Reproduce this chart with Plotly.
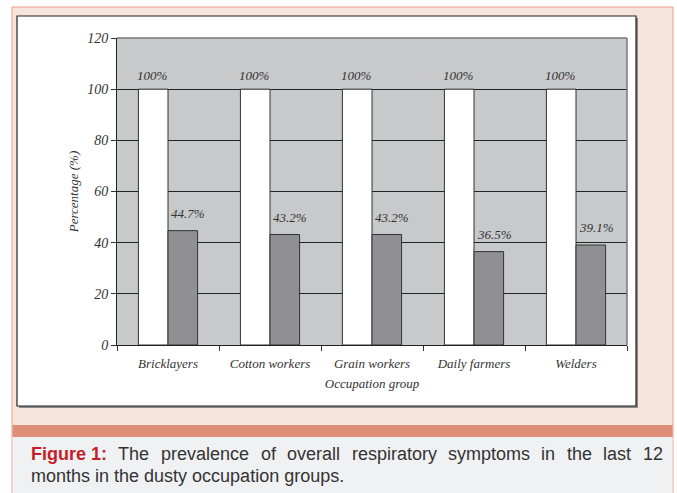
import plotly.graph_objects as go

categories = ["Bricklayers", "Cotton workers", "Grain workers", "Daily farmers", "Welders"]
total_values = [100, 100, 100, 100, 100]
symptom_values = [44.7, 43.2, 43.2, 36.5, 39.1]
y_ticks = [0, 20, 40, 60, 80, 100, 120]

caption_lead = "Figure 1:"
caption_line1 = "The prevalence of overall respiratory symptoms in the last 12"
caption_line2 = "months in the dusty occupation groups."

W, H = 677, 493
L, R, T, B = 117, 627, 38, 345  # plot area in pixels


def xp(px):
    return (px - L) / (R - L)


def yp(py):
    return (B - py) / (B - T)


serif = "Liberation Serif"
sans = "Liberation Sans"
txt = "#333333"
ital = dict(family=serif, size=13, color=txt, style="italic")

# Arial advance widths (em) for justifying the first caption line
REG = {" ": .278, "T": .611, "h": .556, "e": .556, "p": .556, "r": .333, "v": .5, "a": .556,
       "l": .222, "n": .556, "c": .5, "o": .556, "f": .278, "s": .5, "i": .222, "t": .278,
       "y": .5, "m": .833, "1": .556, "2": .556, "u": .556, "d": .556, "g": .556}
BOLD = {" ": .278, "F": .611, "i": .278, "g": .611, "u": .611, "r": .389, "e": .556,
        "1": .556, ":": .333}
CAP_SIZE = 18
LINE_X0, LINE_X1 = 29, 661

fig = go.Figure()
fig.add_trace(go.Bar(
    x=categories, y=total_values, marker=dict(color="#ffffff", line=dict(color="#333333", width=1)),
    hoverinfo="skip", showlegend=False))
fig.add_trace(go.Bar(
    x=categories, y=symptom_values, marker=dict(color="#909094", line=dict(color="#333333", width=1)),
    hoverinfo="skip", showlegend=False))

annotations = []
for c, v in zip(categories, total_values):
    annotations.append(dict(x=c, y=v, xref="x", yref="y", text=f"{v}%", showarrow=False,
                            xshift=-16, yshift=14, font=ital))
for c, v in zip(categories, symptom_values):
    annotations.append(dict(x=c, y=v, xref="x", yref="y", text=f"{v}%", showarrow=False,
                            xshift=20, yshift=17, font=ital))

# caption, first line justified
words = [(caption_lead, True)] + [(w, False) for w in caption_line1.split(" ")]
widths = [sum((BOLD if b else REG).get(ch, .556) for ch in w) * CAP_SIZE for w, b in words]
gap = (LINE_X1 - LINE_X0 - sum(widths)) / (len(words) - 1)
xpos = LINE_X0
for (w, b), wd in zip(words, widths):
    annotations.append(dict(
        x=xp(xpos), y=yp(454), xref="paper", yref="paper", xanchor="left", yanchor="middle",
        text=f"<b>{w}</b>" if b else w, showarrow=False,
        font=dict(family=sans, size=CAP_SIZE, color="#c41e2a" if b else "#333333")))
    xpos += wd + gap
annotations.append(dict(
    x=xp(LINE_X0), y=yp(476), xref="paper", yref="paper", xanchor="left", yanchor="middle",
    text=caption_line2, showarrow=False, align="left",
    font=dict(family=sans, size=CAP_SIZE, color="#333333")))

shapes = [
    dict(type="rect", xref="paper", yref="paper", x0=xp(12), x1=xp(673), y0=yp(7), y1=yp(495),
         fillcolor="#f6e3da", line=dict(color="#e6a08c", width=1), layer="below"),
    dict(type="rect", xref="paper", yref="paper", x0=xp(12.5), x1=xp(672.5), y0=yp(425), y1=yp(437),
         fillcolor="#de8d78", line=dict(width=0), layer="below"),
    dict(type="rect", xref="paper", yref="paper", x0=xp(12.5), x1=xp(672.5), y0=yp(437), y1=yp(495),
         fillcolor="#f0f1f3", line=dict(width=0), layer="below"),
    dict(type="rect", xref="paper", yref="paper", x0=xp(19), x1=xp(638), y0=yp(18), y1=yp(408),
         fillcolor="#8a8a8a", line=dict(width=0), layer="below"),
    dict(type="rect", xref="paper", yref="paper", x0=xp(17), x1=xp(636), y0=yp(16), y1=yp(406),
         fillcolor="#ffffff", line=dict(color="#222222", width=1.2), layer="below"),
    dict(type="rect", xref="paper", yref="paper", x0=0, x1=1, y0=0, y1=1,
         fillcolor="#c8c9cb", line=dict(width=0), layer="below"),
    dict(type="line", xref="paper", yref="paper", x0=0, x1=1, y0=1, y1=1,
         line=dict(color="#777777", width=1.5), layer="above"),
    dict(type="line", xref="paper", yref="paper", x0=1, x1=1, y0=0, y1=1,
         line=dict(color="#777777", width=1.5), layer="above"),
]

fig.update_layout(
    width=W, height=H,
    margin=dict(l=L, r=W - R, t=T, b=H - B, pad=0),
    paper_bgcolor="#ffffff", plot_bgcolor="rgba(0,0,0,0)",
    barmode="group", bargap=0.42, bargroupgap=0,
    annotations=annotations, shapes=shapes,
    xaxis=dict(
        type="category", tickson="boundaries", ticks="outside", ticklen=5, tickcolor="#333333",
        showline=True, linecolor="#222222", linewidth=1, showgrid=False,
        tickfont=ital, ticklabelstandoff=6,
        title=dict(text="Occupation group", font=ital, standoff=9),
    ),
    yaxis=dict(
        range=[0, 120], tickvals=y_ticks,
        ticks="outside", ticklen=5, tickcolor="#333333",
        showline=True, linecolor="#222222", linewidth=1,
        showgrid=True, gridcolor="#222222", gridwidth=1, zeroline=False,
        tickfont=dict(family=serif, size=14, color=txt, style="italic"),
        title=dict(text="Percentage (%)", font=ital, standoff=5),
    ),
)

fig.write_html("out.html", config={"displayModeBar": False},
               post_script="document.body.style.margin='0';document.body.style.overflow='hidden';")
